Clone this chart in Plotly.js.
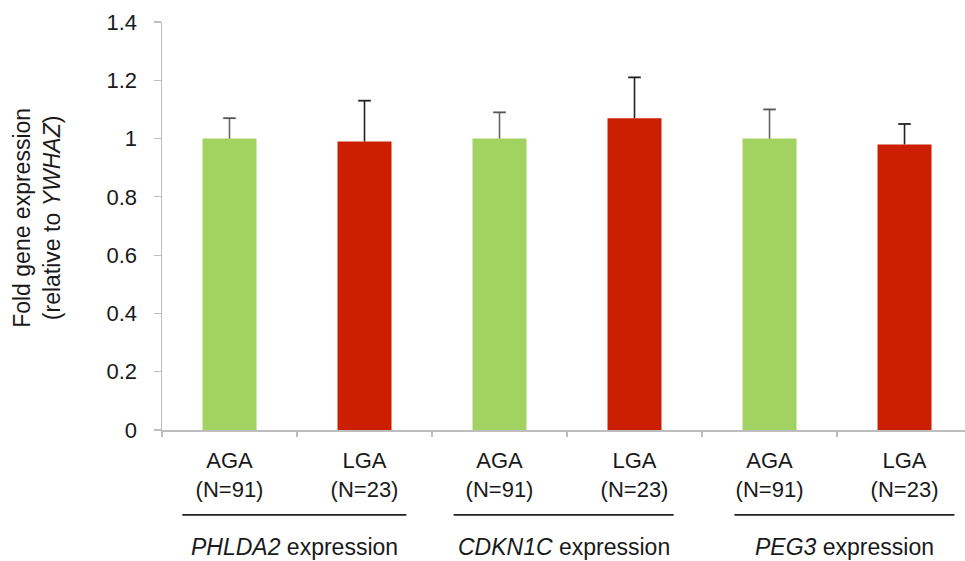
<!DOCTYPE html>
<html>
<head>
<meta charset="utf-8">
<script src="https://cdn.plot.ly/plotly-3.0.1.min.js"></script>
<style>html,body{margin:0;padding:0;background:#fff;}#chart{width:965px;height:561px;}</style>
</head>
<body>
<div id="chart"></div>
<script>
// Data
const genes = ['PHLDA2', 'CDKN1C', 'PEG3'];
const groupNames = ['AGA', 'LGA'];
const groupN = ['N=91', 'N=23'];
const agaValues = [1.00, 1.00, 1.00];
const agaErrors = [0.07, 0.09, 0.10];
const lgaValues = [0.99, 1.07, 0.98];
const lgaErrors = [0.14, 0.14, 0.07];
const yTicks = [0, 0.2, 0.4, 0.6, 0.8, 1, 1.2, 1.4];

const font = 'Liberation Sans, Arial, sans-serif';
const textColor = '#1a1a1a';
const axisColor = '#bdbdbd';

// positions: category index per gene and group
const agaX = genes.map((g, i) => i * 2);
const lgaX = genes.map((g, i) => i * 2 + 1);
const tickVals = [], tickText = [];
genes.forEach((g, i) => {
  groupNames.forEach((n, j) => {
    tickVals.push(i * 2 + j);
    tickText.push(n + '<br>(' + groupN[j] + ')');
  });
});

function barTrace(xs, vals, errs, color, errColor) {
  return {
    type: 'bar', x: xs, y: vals, width: 0.4,
    marker: {color: color},
    error_y: {type: 'data', symmetric: false, array: errs, arrayminus: errs.map(() => 0),
      visible: true, color: errColor, thickness: 1.6, width: 0},
    hoverinfo: 'skip'
  };
}
function capTrace(xs, vals, errs, errColor) {
  return {
    type: 'scatter', mode: 'markers', x: xs, y: vals.map((v, i) => v + errs[i]),
    marker: {symbol: 'line-ew', size: 9, line: {color: errColor, width: 1.8}},
    hoverinfo: 'skip', cliponaxis: false
  };
}

const traces = [
  barTrace(agaX, agaValues, agaErrors, '#a2d362', '#666666'),
  barTrace(lgaX, lgaValues, lgaErrors, '#cc1e00', '#222222'),
  capTrace(agaX, agaValues, agaErrors, '#555555'),
  capTrace(lgaX, lgaValues, lgaErrors, '#222222')
];

const shapes = [];
const annotations = [];
const lineSpan = [[-0.35, 1.31], [1.66, 3.29], [3.74, 5.37]];
genes.forEach((g, i) => {
  shapes.push({type: 'line', xref: 'x', yref: 'paper',
    x0: lineSpan[i][0], x1: lineSpan[i][1], y0: -0.208, y1: -0.208,
    line: {color: '#222222', width: 1.8}});
  annotations.push({xref: 'x', yref: 'paper', x: (lineSpan[i][0] + lineSpan[i][1]) / 2, y: -0.286,
    text: '<i>' + g + '</i> expression', showarrow: false, xanchor: 'center', yanchor: 'middle',
    font: {family: font, size: 23, color: textColor}});
});
annotations.push({xref: 'paper', yref: 'paper', x: (37 - 162) / 803, y: 0.52,
  text: 'Fold gene expression<br>(relative to <i>YWHAZ</i>)', textangle: -90, showarrow: false,
  xanchor: 'center', yanchor: 'middle',
  font: {family: font, size: 23, color: textColor}});

const layout = {
  width: 965, height: 561,
  margin: {l: 162, r: 0, t: 22, b: 131},
  paper_bgcolor: '#ffffff', plot_bgcolor: '#ffffff',
  barmode: 'overlay',
  showlegend: false,
  font: {family: font, color: textColor},
  xaxis: {
    range: [-0.5, 5.448],
    tickmode: 'array', tickvals: tickVals, ticktext: tickText,
    ticks: '', showgrid: false, zeroline: false,
    showline: true, linecolor: axisColor, linewidth: 1.5,
    tickfont: {family: font, size: 22, color: textColor},
    ticklabelstandoff: 10,
    minor: {tick0: -0.5, dtick: 1, ticks: 'outside', ticklen: 5, tickcolor: axisColor, tickwidth: 1.2, showgrid: false}
  },
  yaxis: {
    range: [0, 1.4],
    tickmode: 'array', tickvals: yTicks, ticktext: yTicks.map(v => String(v)),
    ticks: 'outside', ticklen: 7, tickcolor: axisColor, tickwidth: 1.2,
    showgrid: false, zeroline: false,
    showline: true, linecolor: axisColor, linewidth: 1.5,
    tickfont: {family: font, size: 22, color: textColor},
    ticklabelstandoff: 12
  },
  shapes: shapes,
  annotations: annotations
};

Plotly.newPlot('chart', traces, layout, {displayModeBar: false, staticPlot: true});
</script>
</body>
</html>
